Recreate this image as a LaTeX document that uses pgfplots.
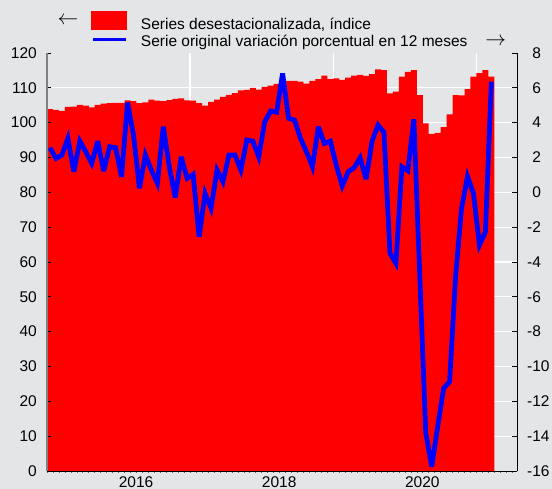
\documentclass[border=0pt]{standalone}
\usepackage{pgfplots}
\usepackage{pgfplotstable}
\pgfplotsset{compat=1.18}
\usepackage{fontspec}
\setmainfont{Liberation Sans}
\definecolor{bg}{RGB}{228,229,231}
\definecolor{myred}{RGB}{255,0,0}
\definecolor{myblue}{RGB}{0,0,255}

% month index: 0 = January 2015
\pgfplotstableread{
x y
0 103.9
1 103.7
2 103.4
3 104.5
4 104.6
5 105.1
6 104.9
7 104.4
8 105.1
9 105.5
10 105.6
11 105.7
12 105.7
13 106.4
14 106.2
15 105.6
16 105.8
17 106.6
18 106.3
19 106.2
20 106.5
21 106.8
22 107.0
23 106.4
24 106.3
25 105.6
26 104.9
27 106.0
28 106.6
29 107.4
30 108.0
31 108.5
32 109.3
33 109.4
34 110.0
35 109.5
36 110.3
37 110.6
38 111.1
39 111.8
40 112.0
41 112.0
42 111.8
43 111.2
44 112.0
45 112.5
46 113.5
47 112.5
48 112.7
49 112.3
50 112.9
51 113.5
52 113.7
53 113.4
54 113.9
55 115.3
56 115.1
57 108.4
58 108.9
59 113.2
60 114.6
61 115.1
62 107.9
63 99.8
64 96.8
65 97.1
66 98.7
67 102.4
68 107.9
69 107.8
70 109.6
71 113.2
72 114.2
73 115.1
74 113.2
75 113.2
}\barsdata

\pgfplotstableread{
x y
0.5 2.56
1.5 1.95
2.5 2.14
3.5 3.10
4.5 1.18
5.5 2.94
6.5 2.33
7.5 1.66
8.5 2.94
9.5 1.22
10.5 2.62
11.5 2.56
12.5 0.89
13.5 5.15
14.5 3.29
15.5 0.23
16.5 2.14
17.5 1.28
18.5 0.52
19.5 3.77
20.5 1.47
21.5 -0.30
22.5 2.04
23.5 0.80
24.5 1.03
25.5 -2.55
26.5 -0.06
27.5 -0.92
28.5 1.28
29.5 0.61
30.5 2.14
31.5 2.14
32.5 1.28
33.5 3.00
34.5 2.94
35.5 2.04
36.5 4.05
37.5 4.67
38.5 4.60
39.5 6.83
40.5 4.25
41.5 4.15
42.5 3.10
43.5 2.33
44.5 1.47
45.5 3.77
46.5 2.81
47.5 2.94
48.5 1.56
49.5 0.36
50.5 1.18
51.5 1.41
52.5 1.98
53.5 0.76
54.5 2.94
55.5 3.86
56.5 3.44
57.5 -3.50
58.5 -4.08
59.5 1.47
60.5 1.24
61.5 4.20
62.5 -4.80
63.5 -13.80
64.5 -15.75
65.5 -13.46
66.5 -11.25
67.5 -10.87
68.5 -4.85
69.5 -0.92
70.5 0.91
71.5 -0.06
72.5 -3.03
73.5 -2.27
74.5 6.35
}\varsdata

\begin{document}
\fontsize{15.5}{18}\selectfont
\begin{tikzpicture}[font=\fontsize{15.5}{18}\selectfont]
\fill[bg] (-47pt,-18pt) rectangle (505pt,471pt);

% grid only
\begin{axis}[
  scale only axis, width=470pt, height=418pt,
  xmin=0, xmax=78.8, ymin=0, ymax=120,
  xtick={24,48,72}, ytick={10,20,...,110},
  xticklabels={}, yticklabels={},
  grid=major, grid style={white, line width=1.3pt},
  axis line style={draw=none},
  major tick length=0pt, tick style={draw=none},
]
\end{axis}

% bars
\begin{axis}[
  scale only axis, width=470pt, height=418pt,
  xmin=0, xmax=78.8, ymin=0, ymax=120,
  axis on top,
  axis x line*=bottom, axis y line*=left,
  x axis line style={black, line width=0.9pt, -},
  y axis line style={black!50, line width=1.5pt, -},
  xtick={12,36,60}, xticklabels={2016,2018,2020},
  xtick align=outside,
  major x tick style={draw=none},
  minor xtick={0,1,...,78},
  minor x tick style={black!60, line width=0.6pt},
  minor tick length=2pt,
  major tick length=4pt,
  xticklabel style={anchor=north west, inner sep=0pt, yshift=-1pt},
  ytick={0,10,...,120},
  yticklabels={0,10,20,30,40,50,60,70,80,90,100,110,120},
  ytick align=inside,
  major y tick style={black, line width=0.8pt},
  yticklabel style={anchor=east, inner sep=0pt, xshift=-10pt},
  legend style={at={(axis description cs:0,1)}, anchor=north west,
    xshift=44pt, yshift=42.5pt, draw=none, fill=none, inner sep=0pt,
    row sep=4pt, column sep=13pt, nodes={inner sep=0pt},
    cells={anchor=base west}, font=\fontsize{15.5}{18}\selectfont},
]
\addplot[const plot, fill=myred, draw=none,
  legend image code/.code={\fill[myred] (0pt,-1pt) rectangle (36pt,18.5pt);}]
  table[x=x,y=y]{\barsdata} \closedcycle;
\addlegendentry{Series desestacionalizada, índice}
\addlegendimage{legend image code/.code={\draw[myblue, line width=3.5pt] (2pt,7.3pt) -- (35pt,7.3pt);}}
\addlegendentry{Serie original variación porcentual en 12 meses}
\end{axis}

% line
\begin{axis}[
  scale only axis, width=470pt, height=418pt,
  xmin=0, xmax=78.8, ymin=-16, ymax=8,
  clip=false,
  axis x line=none, axis y line*=right,
  y axis line style={black, line width=0.9pt, -},
  ytick={-16,-14,...,8},
  yticklabels={-16,-14,-12,-10,-8,-6,-4,-2,\phantom{-}0,\phantom{-}2,\phantom{-}4,\phantom{-}6,\phantom{-}8},
  ytick align=inside,
  major tick length=5pt,
  major y tick style={black, line width=0.8pt},
  yticklabel style={anchor=west, inner sep=0pt, xshift=10pt},
]
\addplot[myblue, line width=4.8pt, miter limit=4] table[x=x,y=y]{\varsdata};
\node at (axis description cs:0.0447,1.0766) {\fontsize{20}{20}\selectfont$\leftarrow$};
\node at (axis description cs:0.955,1.0263) {\fontsize{20}{20}\selectfont$\rightarrow$};
\end{axis}

\pgfresetboundingbox
\useasboundingbox (-47pt,-18pt) rectangle (505pt,471pt);
\end{tikzpicture}
\end{document}
